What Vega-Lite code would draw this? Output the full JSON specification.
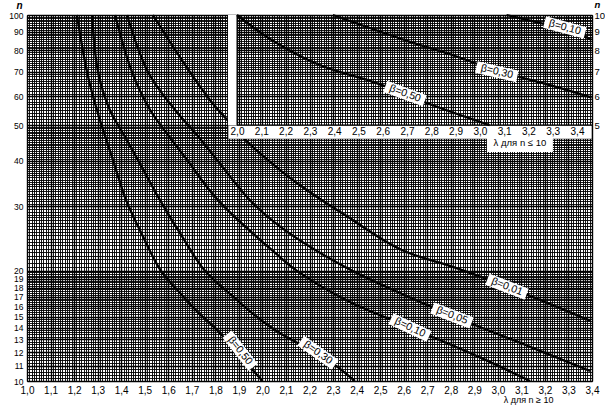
{
  "$schema": "https://vega.github.io/schema/vega-lite/v6.json",
  "width": 565,
  "height": 366,
  "autosize": "none",
  "padding": {"left": 27, "top": 15, "right": 13, "bottom": 29},
  "background": "white",
  "config": {
    "view": {"stroke": "#000", "strokeWidth": 1},
    "font": "Liberation Sans",
    "axis": {"labelFont": "Liberation Sans", "titleFont": "Liberation Sans", "labelColor": "#000", "titleColor": "#000", "labelFontSize": 10}
  },
  "datasets": {
    "main": [
      {"beta": "0.50", "lam": 1.212, "n": 100}, {"beta": "0.50", "lam": 1.255, "n": 69.9}, {"beta": "0.50", "lam": 1.297, "n": 55.0}, {"beta": "0.50", "lam": 1.365, "n": 40.2}, {"beta": "0.50", "lam": 1.421, "n": 31.2}, {"beta": "0.50", "lam": 1.489, "n": 25.1}, {"beta": "0.50", "lam": 1.569, "n": 20.0}, {"beta": "0.50", "lam": 1.650, "n": 17.4}, {"beta": "0.50", "lam": 1.731, "n": 15.3}, {"beta": "0.50", "lam": 1.811, "n": 13.7}, {"beta": "0.50", "lam": 1.896, "n": 11.9}, {"beta": "0.50", "lam": 2.0, "n": 10},
      {"beta": "0.30", "lam": 1.276, "n": 100}, {"beta": "0.30", "lam": 1.302, "n": 69.9}, {"beta": "0.30", "lam": 1.352, "n": 55.0}, {"beta": "0.30", "lam": 1.412, "n": 47.0}, {"beta": "0.30", "lam": 1.471, "n": 40.2}, {"beta": "0.30", "lam": 1.565, "n": 31.2}, {"beta": "0.30", "lam": 1.654, "n": 25.1}, {"beta": "0.30", "lam": 1.756, "n": 20.0}, {"beta": "0.30", "lam": 1.871, "n": 17.1}, {"beta": "0.30", "lam": 1.969, "n": 15.1}, {"beta": "0.30", "lam": 2.075, "n": 13.5}, {"beta": "0.30", "lam": 2.160, "n": 12.6}, {"beta": "0.30", "lam": 2.236, "n": 11.9}, {"beta": "0.30", "lam": 2.313, "n": 11.0}, {"beta": "0.30", "lam": 2.393, "n": 10},
      {"beta": "0.10", "lam": 1.374, "n": 100}, {"beta": "0.10", "lam": 1.446, "n": 69.9}, {"beta": "0.10", "lam": 1.523, "n": 55.0}, {"beta": "0.10", "lam": 1.599, "n": 47.0}, {"beta": "0.10", "lam": 1.680, "n": 40.2}, {"beta": "0.10", "lam": 1.811, "n": 31.2}, {"beta": "0.10", "lam": 2.075, "n": 21.8}, {"beta": "0.10", "lam": 2.147, "n": 20.0}, {"beta": "0.10", "lam": 2.359, "n": 16.6}, {"beta": "0.10", "lam": 2.627, "n": 14.0}, {"beta": "0.10", "lam": 2.924, "n": 11.6}, {"beta": "0.10", "lam": 3.137, "n": 10},
      {"beta": "0.05", "lam": 1.425, "n": 100}, {"beta": "0.05", "lam": 1.514, "n": 69.9}, {"beta": "0.05", "lam": 1.629, "n": 55.0}, {"beta": "0.05", "lam": 1.722, "n": 47.0}, {"beta": "0.05", "lam": 1.807, "n": 40.2}, {"beta": "0.05", "lam": 1.947, "n": 31.2}, {"beta": "0.05", "lam": 2.075, "n": 26.4}, {"beta": "0.05", "lam": 2.351, "n": 20.5}, {"beta": "0.05", "lam": 2.805, "n": 15.1}, {"beta": "0.05", "lam": 3.137, "n": 12.4}, {"beta": "0.05", "lam": 3.392, "n": 10.65},
      {"beta": "0.01", "lam": 1.535, "n": 100}, {"beta": "0.01", "lam": 1.658, "n": 75.3}, {"beta": "0.01", "lam": 1.777, "n": 58.6}, {"beta": "0.01", "lam": 1.850, "n": 51.7}, {"beta": "0.01", "lam": 1.905, "n": 47.0}, {"beta": "0.01", "lam": 2.075, "n": 37.7}, {"beta": "0.01", "lam": 2.202, "n": 32.8}, {"beta": "0.01", "lam": 2.351, "n": 28.4}, {"beta": "0.01", "lam": 2.585, "n": 22.9}, {"beta": "0.01", "lam": 2.818, "n": 20.4}, {"beta": "0.01", "lam": 3.039, "n": 18.1}, {"beta": "0.01", "lam": 3.392, "n": 14.6}
    ],
    "inset": [
      {"beta": "0.50", "lam": 2.0, "n": 10}, {"beta": "0.50", "lam": 2.136, "n": 8.6}, {"beta": "0.50", "lam": 2.34, "n": 7.3}, {"beta": "0.50", "lam": 2.55, "n": 6.6}, {"beta": "0.50", "lam": 2.692, "n": 6.1}, {"beta": "0.50", "lam": 2.76, "n": 5.82}, {"beta": "0.50", "lam": 3.04, "n": 5.0},
      {"beta": "0.30", "lam": 2.395, "n": 10}, {"beta": "0.30", "lam": 2.55, "n": 9.2}, {"beta": "0.30", "lam": 2.70, "n": 8.5}, {"beta": "0.30", "lam": 2.88, "n": 7.8}, {"beta": "0.30", "lam": 3.07, "n": 7.05}, {"beta": "0.30", "lam": 3.30, "n": 6.4}, {"beta": "0.30", "lam": 3.46, "n": 5.95},
      {"beta": "0.10", "lam": 3.11, "n": 10}, {"beta": "0.10", "lam": 3.25, "n": 9.5}, {"beta": "0.10", "lam": 3.36, "n": 9.15}, {"beta": "0.10", "lam": 3.46, "n": 8.55}
    ]
  },
  "layer": [
    {
      "layer": [
        {
          "data": {"name": "main"},
          "mark": {"type": "line", "color": "#000", "strokeWidth": 2.3, "interpolate": "catmull-rom"},
          "encoding": {
            "x": {
              "field": "lam", "type": "quantitative",
              "scale": {"domain": [1, 3.4], "nice": false, "zero": false},
              "axis": {
                "orient": "bottom", "tickCount": 240, "grid": true, "ticks": false, "domain": false,
                "labelOverlap": false, "labelPadding": 4, "labelFlush": false,
                "labelExpr": "abs(datum.value*10 - round(datum.value*10)) < 0.001 ? replace(format(datum.value, '.1f'), '.', ',') : ''",
                "gridColor": "#000",
                "gridWidth": {"condition": {"test": "abs(datum.value*10 - round(datum.value*10)) < 0.001", "value": 1.4}, "value": 0.9},
                "title": "λ для n ≥ 10", "titleX": 526, "titleY": 18, "titleAlign": "right", "titleBaseline": "middle",
                "titleFontWeight": "normal", "titleFontSize": 9
              }
            },
            "y": {
              "field": "n", "type": "quantitative",
              "scale": {"type": "log", "domain": [10, 100], "nice": false},
              "axis": {
                "orient": "left", "grid": true, "ticks": false, "domain": false, "labelOverlap": false, "labelPadding": 4, "labelFlush": false, "labelFontSize": 8.5,
                "values": [10,10.2,10.4,10.6,10.8,11,11.2,11.4,11.6,11.8,12,12.2,12.4,12.6,12.8,13,13.2,13.4,13.6,13.8,14,14.2,14.4,14.6,14.8,15,15.2,15.4,15.6,15.8,16,16.2,16.4,16.6,16.8,17,17.2,17.4,17.6,17.8,18,18.2,18.4,18.6,18.8,19,19.2,19.4,19.6,19.8,20,20.5,21,21.5,22,22.5,23,23.5,24,24.5,25,25.5,26,26.5,27,27.5,28,28.5,29,29.5,30,30.5,31,31.5,32,32.5,33,33.5,34,34.5,35,35.5,36,36.5,37,37.5,38,38.5,39,39.5,40,40.5,41,41.5,42,42.5,43,43.5,44,44.5,45,45.5,46,46.5,47,47.5,48,48.5,49,49.5,50,51,52,53,54,55,56,57,58,59,60,61,62,63,64,65,66,67,68,69,70,71,72,73,74,75,76,77,78,79,80,81,82,83,84,85,86,87,88,89,90,91,92,93,94,95,96,97,98,99,100],
                "labelExpr": "(datum.value <= 20 && datum.value == round(datum.value)) || datum.value % 10 == 0 ? format(datum.value, 'd') : ''",
                "gridColor": "#000",
                "gridWidth": {"condition": {"test": "(datum.value <= 20 && datum.value == round(datum.value)) || datum.value % 10 == 0", "value": 1.4}, "value": 0.9},
                "title": "n", "titleAngle": 0, "titleX": -8, "titleY": -10, "titleAlign": "center", "titleBaseline": "middle",
                "titleFontStyle": "italic", "titleFontWeight": "bold", "titleFontSize": 10
              }
            },
            "detail": {"field": "beta"}
          }
        },
        {
          "data": {"values": [{"label": "β=0,50", "lam": 1.905, "n": 12.1}]},
          "encoding": {"x": {"field": "lam", "type": "quantitative"}, "y": {"field": "n", "type": "quantitative"}},
          "layer": [
            {"mark": {"type": "point", "shape": "M-1,-0.28H1V0.28H-1Z", "filled": true, "fill": "white", "opacity": 1, "strokeWidth": 0, "size": 1764, "angle": 52}},
            {"mark": {"type": "text", "angle": 52, "fontSize": 10.5, "color": "#000", "align": "center", "baseline": "middle"}, "encoding": {"text": {"field": "label"}}}
          ]
        },
        {
          "data": {"values": [{"label": "β=0,30", "lam": 2.236, "n": 11.95}]},
          "encoding": {"x": {"field": "lam", "type": "quantitative"}, "y": {"field": "n", "type": "quantitative"}},
          "layer": [
            {"mark": {"type": "point", "shape": "M-1,-0.28H1V0.28H-1Z", "filled": true, "fill": "white", "opacity": 1, "strokeWidth": 0, "size": 1764, "angle": 35}},
            {"mark": {"type": "text", "angle": 35, "fontSize": 10.5, "color": "#000", "align": "center", "baseline": "middle"}, "encoding": {"text": {"field": "label"}}}
          ]
        },
        {
          "data": {"values": [{"label": "β=0,10", "lam": 2.627, "n": 14.0}]},
          "encoding": {"x": {"field": "lam", "type": "quantitative"}, "y": {"field": "n", "type": "quantitative"}},
          "layer": [
            {"mark": {"type": "point", "shape": "M-1,-0.28H1V0.28H-1Z", "filled": true, "fill": "white", "opacity": 1, "strokeWidth": 0, "size": 1764, "angle": 25}},
            {"mark": {"type": "text", "angle": 25, "fontSize": 10.5, "color": "#000", "align": "center", "baseline": "middle"}, "encoding": {"text": {"field": "label"}}}
          ]
        },
        {
          "data": {"values": [{"label": "β=0,05", "lam": 2.805, "n": 15.1}]},
          "encoding": {"x": {"field": "lam", "type": "quantitative"}, "y": {"field": "n", "type": "quantitative"}},
          "layer": [
            {"mark": {"type": "point", "shape": "M-1,-0.28H1V0.28H-1Z", "filled": true, "fill": "white", "opacity": 1, "strokeWidth": 0, "size": 1764, "angle": 21}},
            {"mark": {"type": "text", "angle": 21, "fontSize": 10.5, "color": "#000", "align": "center", "baseline": "middle"}, "encoding": {"text": {"field": "label"}}}
          ]
        },
        {
          "data": {"values": [{"label": "β=0,01", "lam": 3.039, "n": 18.1}]},
          "encoding": {"x": {"field": "lam", "type": "quantitative"}, "y": {"field": "n", "type": "quantitative"}},
          "layer": [
            {"mark": {"type": "point", "shape": "M-1,-0.28H1V0.28H-1Z", "filled": true, "fill": "white", "opacity": 1, "strokeWidth": 0, "size": 1764, "angle": 21}},
            {"mark": {"type": "text", "angle": 21, "fontSize": 10.5, "color": "#000", "align": "center", "baseline": "middle"}, "encoding": {"text": {"field": "label"}}}
          ]
        }
      ]
    },
    {
      "layer": [
        {
          "data": {"values": [{}]},
          "mark": {"type": "rect", "color": "white", "stroke": "#000", "strokeWidth": 0.6},
          "encoding": {
            "x": {
              "datum": 1.963, "type": "quantitative",
              "scale": {"domain": [1.1353, 3.4618], "nice": false, "zero": false},
              "axis": {
                "orient": "bottom", "offset": -256, "values": [2.0,2.1,2.2,2.3,2.4,2.5,2.6,2.7,2.8,2.9,3.0,3.1,3.2,3.3,3.4],
                "grid": false, "ticks": false, "domain": false, "labelPadding": 1, "labelOverlap": false, "labelFlush": false,
                "labelExpr": "replace(format(datum.value, '.1f'), '.', ',')", "title": null, "zindex": 2
              }
            },
            "x2": {"datum": 3.4618},
            "y": {
              "datum": 4.58, "type": "quantitative",
              "scale": {"type": "log", "domain": [1, 10], "nice": false},
              "axis": {
                "orient": "right", "values": [5,6,7,8,9,10], "grid": false, "ticks": false, "domain": false, "labelPadding": 2, "labelFontSize": 9.5,
                "title": "n", "titleAngle": 0, "titleX": 5, "titleY": -11, "titleAlign": "center", "titleBaseline": "middle",
                "titleFontStyle": "italic", "titleFontWeight": "bold", "titleFontSize": 9.5, "zindex": 2
              }
            },
            "y2": {"datum": 5}
          }
        },
        {
          "data": {"values": [{}]},
          "mark": {"type": "rect", "color": "white"},
          "encoding": {
            "x": {"datum": 1.963, "type": "quantitative"}, "x2": {"datum": 2.0},
            "y": {"datum": 5, "type": "quantitative"}, "y2": {"datum": 10}
          }
        },
        {
          "data": {"values": [{}]},
          "mark": {"type": "rule", "color": "#000", "strokeWidth": 1},
          "encoding": {
            "x": {"datum": 2.0, "type": "quantitative"}, "x2": {"datum": 3.4618},
            "y": {"datum": 5, "type": "quantitative"}
          }
        },
        {
          "data": {"values": [{}]},
          "mark": {"type": "rule", "color": "#000", "strokeWidth": 1},
          "encoding": {
            "x": {"datum": 2.0, "type": "quantitative"},
            "y": {"datum": 5, "type": "quantitative"}, "y2": {"datum": 10}
          }
        },
        {
          "data": {"name": "inset"},
          "mark": {"type": "line", "color": "#000", "strokeWidth": 2.3, "interpolate": "catmull-rom"},
          "encoding": {
            "x": {"field": "lam", "type": "quantitative"},
            "y": {"field": "n", "type": "quantitative"},
            "detail": {"field": "beta"}
          }
        },
        {
          "data": {"values": [{"label": "β=0,50", "lam": 2.692, "n": 6.1}]},
          "encoding": {"x": {"field": "lam", "type": "quantitative"}, "y": {"field": "n", "type": "quantitative"}},
          "layer": [
            {"mark": {"type": "point", "shape": "M-1,-0.28H1V0.28H-1Z", "filled": true, "fill": "white", "opacity": 1, "strokeWidth": 0, "size": 1764, "angle": 20}},
            {"mark": {"type": "text", "angle": 20, "fontSize": 10.5, "color": "#000", "align": "center", "baseline": "middle"}, "encoding": {"text": {"field": "label"}}}
          ]
        },
        {
          "data": {"values": [{"label": "β=0,30", "lam": 3.07, "n": 7.0}]},
          "encoding": {"x": {"field": "lam", "type": "quantitative"}, "y": {"field": "n", "type": "quantitative"}},
          "layer": [
            {"mark": {"type": "point", "shape": "M-1,-0.28H1V0.28H-1Z", "filled": true, "fill": "white", "opacity": 1, "strokeWidth": 0, "size": 1764, "angle": 13}},
            {"mark": {"type": "text", "angle": 13, "fontSize": 10.5, "color": "#000", "align": "center", "baseline": "middle"}, "encoding": {"text": {"field": "label"}}}
          ]
        },
        {
          "data": {"values": [{"label": "β=0,10", "lam": 3.35, "n": 9.25}]},
          "encoding": {"x": {"field": "lam", "type": "quantitative"}, "y": {"field": "n", "type": "quantitative"}},
          "layer": [
            {"mark": {"type": "point", "shape": "M-1,-0.28H1V0.28H-1Z", "filled": true, "fill": "white", "opacity": 1, "strokeWidth": 0, "size": 1764, "angle": 15}},
            {"mark": {"type": "text", "angle": 15, "fontSize": 10.5, "color": "#000", "align": "center", "baseline": "middle"}, "encoding": {"text": {"field": "label"}}}
          ]
        },
        {
          "data": {"values": [{"label": "λ для n ≤ 10", "lam": 3.165, "n": 4.46}]},
          "encoding": {"x": {"field": "lam", "type": "quantitative"}, "y": {"field": "n", "type": "quantitative"}},
          "layer": [
            {"mark": {"type": "point", "shape": "M-1,-0.26H1V0.26H-1Z", "filled": true, "fill": "white", "opacity": 1, "strokeWidth": 0, "size": 4356}},
            {"mark": {"type": "text", "fontSize": 9.5, "color": "#000", "align": "center", "baseline": "middle"}, "encoding": {"text": {"field": "label"}}}
          ]
        }
      ]
    }
  ],
  "resolve": {
    "scale": {"x": "independent", "y": "independent"},
    "axis": {"x": "independent", "y": "independent"}
  }
}
